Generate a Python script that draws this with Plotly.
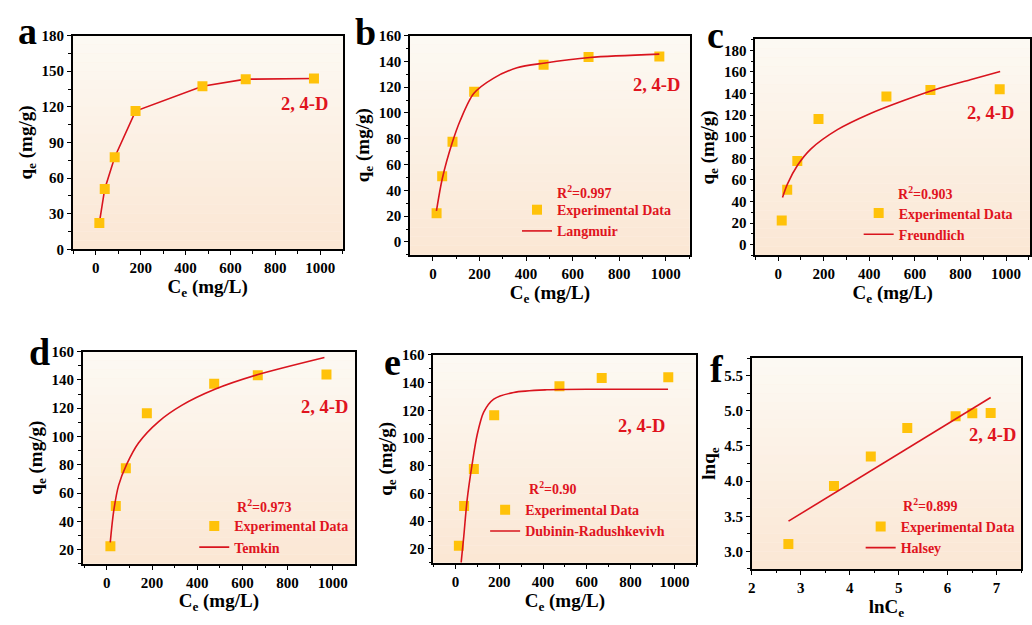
import plotly.graph_objects as go
import numpy as np

W, H = 1032, 625
FONT = "Liberation Serif"
RED_LINE = "#D9141E"
RED_TXT = "#E0141E"
GOLD = "#FFC20A"

# ---------------- data ----------------
ce = [15.6, 39.6, 84, 177, 475, 668, 972]          # Ce (mg/L)
qe = [22.3, 50.9, 77.6, 116.4, 137.3, 143.3, 143.8]  # qe (mg/g)

lang_c = [15, 40, 83, 118, 175, 261, 361, 475, 674, 972]
lang_q = [24, 49, 77, 94.5, 115, 127, 135, 138.6, 143, 145.6]

freu_c = [19, 41, 85, 143, 260, 405, 551, 697, 843, 974]
freu_q = [43.7, 56.3, 73.5, 88.5, 106.5, 121.5, 133.5, 144.2, 152.8, 160.4]

temk_c = [15, 30, 52, 88, 140, 228, 331, 478, 669, 963]
temk_q = [25.1, 47, 65.4, 80.4, 95.4, 110.4, 122, 133.4, 143.8, 155.9]

dr_c = [26, 38, 53, 76, 99, 129, 175, 266, 417, 645, 971]
dr_q = [10.1, 28.9, 54.9, 80.9, 102.2, 118.7, 128.1, 132.9, 134.8, 135.2, 135.2]

hal_x = [2.75, 6.88]
hal_y = [3.43, 5.19]

ln_ce = list(np.log(ce))
ln_qe = list(np.log(qe))

r2_labels = ["0.997", "0.903", "0.973", "0.90", "0.899"]
model_names = ["Langmuir", "Freundlich", "Temkin", "Dubinin-Radushkevivh", "Halsey"]
letters = ["a", "b", "c", "d", "e", "f"]

# ---------------- layout geometry (pixels) ----------------
panels = [
    dict(dom=(69, 340, 28.3, 247.7), xr=[-103, 1100], yr=[0, 180], xd=200, yd=30, xm=100, ym=15,
         lab=(932, 122), letter=(24, 24)),
    dict(dom=(407.7, 688.3, 28.3, 253.3), xr=[-98, 1102], yr=[-10, 160], xd=200, yd=20, xm=100, ym=10,
         lab=(960, 121.5), letter=(363, 25), leg=(515, 191), r2=(553, 189)),
    dict(dom=(754.3, 1030, 32.3, 254), xr=[-100, 1105], yr=[-10, 190], xd=200, yd=20, xm=100, ym=10,
         lab=(930, 122), letter=(714, 28), leg=(858, 194.5), r2=(895, 189.5)),
    dict(dom=(79, 352.3, 352.7, 570.3), xr=[-107, 1098], yr=[10, 160], xd=200, yd=20, xm=100, ym=10,
         lab=(963, 120.8), letter=(36, 353), leg=(191, 515.5), r2=(231.7, 511.5)),
    dict(dom=(431, 695, 356, 569.3), xr=[-101, 1100], yr=[10, 160], xd=200, yd=20, xm=100, ym=10,
         lab=(850, 108.6), letter=(390, 363), leg=(483, 499), r2=(525, 492.5)),
    dict(dom=(750.7, 1021, 359.3, 575.7), xr=[2, 7.5], yr=[2.75, 5.75], xd=1, yd=0.5, xm=0.5, ym=0.25,
         lab=(6.91, 4.66), letter=(716, 370), leg=(860, 516), r2=(900, 510)),
]

fig = go.Figure()

def axn(i, a):
    return a if i == 0 else f"{a}{i+1}"

leg_names = ["legend", "legend2", "legend3", "legend4", "legend5"]

fits = [(lang_c, lang_q), (freu_c, freu_q), (temk_c, temk_q), (dr_c, dr_q), (hal_x, hal_y)]

for i, p in enumerate(panels):
    xa, ya = axn(i, "x"), axn(i, "y")
    if i == 0:
        fig.add_trace(go.Scatter(x=ce, y=qe, mode="lines+markers", xaxis=xa, yaxis=ya,
                                 line=dict(color=RED_LINE, width=1.6),
                                 marker=dict(symbol="square", size=10, color=GOLD),
                                 showlegend=False))
        continue
    lg = leg_names[i - 1]
    if i == 5:
        xs, ys = ln_ce, ln_qe
    else:
        xs, ys = ce, qe
    fig.add_trace(go.Scatter(x=xs, y=ys, mode="markers", xaxis=xa, yaxis=ya,
                             marker=dict(symbol="square", size=10, color=GOLD),
                             name="Experimental Data", legend=lg, showlegend=True))
    fx, fy = fits[i - 1]
    fig.add_trace(go.Scatter(x=fx, y=fy, mode="lines", xaxis=xa, yaxis=ya,
                             line=dict(color=RED_LINE, width=1.6, shape="spline" if i != 5 else "linear",
                                       smoothing=0.8),
                             name=model_names[i - 1], legend=lg, showlegend=True))

layout = dict(width=W, height=H, margin=dict(l=0, r=0, t=0, b=0),
              paper_bgcolor="white", plot_bgcolor="#FCF1E6", showlegend=True)

annotations = []
shapes = []
top_c = np.array([253, 250, 244])
bot_c = np.array([251, 231, 212])
NB = 24

for i, p in enumerate(panels):
    x0, x1, y0, y1 = p["dom"]
    xk, yk = ("xaxis" if i == 0 else f"xaxis{i+1}"), ("yaxis" if i == 0 else f"yaxis{i+1}")
    xa, ya = axn(i, "x"), axn(i, "y")
    tickfont = dict(family=FONT, size=15, color="black", weight="bold")
    common = dict(showline=True, linecolor="black", linewidth=1.6, mirror=True, ticks="outside",
                  ticklen=4, tickwidth=1.3, tickcolor="black", showgrid=False, zeroline=False,
                  tickfont=tickfont, tickprefix="<b>", ticksuffix="</b>")
    xtitle = "lnC<sub>e</sub>" if i == 5 else "C<sub>e</sub> (mg/L)"
    ytitle = "lnq<sub>e</sub>" if i == 5 else "q<sub>e</sub> (mg/g)"
    layout[xk] = dict(common, domain=[x0 / W, x1 / W], range=p["xr"], anchor=ya,
                      tick0=0, dtick=p["xd"],
                      minor=dict(ticks="outside", ticklen=2.5, tickwidth=1, tickcolor="black", dtick=p["xm"]),
                      title=dict(text=xtitle, font=dict(family=FONT, size=19, color="black", weight="bold"), standoff=2))
    layout[yk] = dict(common, domain=[1 - y1 / H, 1 - y0 / H], range=p["yr"], anchor=xa,
                      tick0=0, dtick=p["yd"],
                      tickformat=".1f" if i == 5 else None,
                      minor=dict(ticks="outside", ticklen=2.5, tickwidth=1, tickcolor="black", dtick=p["ym"]),
                      title=dict(text=ytitle, font=dict(family=FONT, size=19, color="black", weight="bold"), standoff=4))
    # background gradient bands
    for b in range(NB):
        t = (b + 0.5) / NB
        c = bot_c + (top_c - bot_c) * t
        shapes.append(dict(type="rect", xref=f"{xa} domain", yref=f"{ya} domain",
                           x0=0, x1=1, y0=b / NB, y1=(b + 1) / NB, layer="below",
                           line=dict(width=0), fillcolor=f"rgb({int(c[0])},{int(c[1])},{int(c[2])})"))
    # "2, 4-D"
    annotations.append(dict(x=p["lab"][0], y=p["lab"][1], xref=xa, yref=ya, text="2, 4-D", showarrow=False,
                            font=dict(family=FONT, size=18.5, color=RED_TXT, weight="bold")))
    # panel letter
    annotations.append(dict(x=p["letter"][0] / W, y=1 - p["letter"][1] / H, xref="paper", yref="paper",
                            text=letters[i], showarrow=False, xanchor="center", yanchor="middle",
                            font=dict(family=FONT, size=38, color="black", weight="bold")))
    if i > 0:
        rx, ry = p["r2"]
        annotations.append(dict(x=rx / W, y=1 - ry / H, xref="paper", yref="paper",
                                text=f"R<sup>2</sup>={r2_labels[i-1]}", showarrow=False,
                                xanchor="left", yanchor="middle",
                                font=dict(family=FONT, size=14, color=RED_TXT, weight="bold")))
        lx, ly = p["leg"]
        layout[leg_names[i - 1]] = dict(x=lx / W, y=1 - ly / H, xanchor="left", yanchor="top",
                                        bgcolor="rgba(0,0,0,0)", itemwidth=30, tracegroupgap=0,
                                        font=dict(family=FONT, size=14, color=RED_TXT, weight="bold"))

layout["annotations"] = annotations
layout["shapes"] = shapes
fig.update_layout(**layout)
fig.write_html("out.html")
